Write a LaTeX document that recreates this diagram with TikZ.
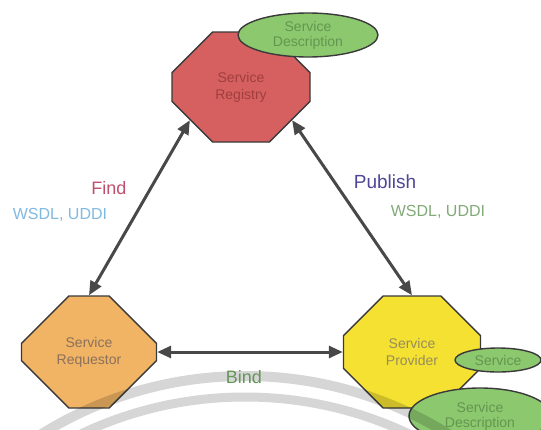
\documentclass[tikz,border=0pt]{standalone}
\usepackage{fontspec}
\setmainfont{Liberation Sans}
\usepackage{tikz}
\usetikzlibrary{shapes.misc, shapes.geometric, arrows.meta}

\definecolor{edgegray}{RGB}{58,58,58}
\definecolor{linkgray}{RGB}{72,72,72}
\definecolor{regred}{RGB}{214,96,96}
\definecolor{regtext}{RGB}{160,62,62}
\definecolor{reqorange}{RGB}{240,180,100}
\definecolor{reqtext}{RGB}{140,112,92}
\definecolor{provyellow}{RGB}{245,225,50}
\definecolor{provtext}{RGB}{150,140,92}
\definecolor{descgreen}{RGB}{140,200,110}
\definecolor{desctext}{RGB}{100,150,80}
\definecolor{findred}{RGB}{190,80,110}
\definecolor{pubblue}{RGB}{80,70,150}
\definecolor{wsdlblue}{RGB}{130,185,225}
\definecolor{wsdlgreen}{RGB}{130,170,120}
\definecolor{bindgreen}{RGB}{100,150,90}

\begin{document}
\begin{tikzpicture}[x=1pt, y=-1pt,
  oct/.style={chamfered rectangle, draw=edgegray, line width=1.4pt, inner sep=0pt, align=center, font=\fontsize{14}{17}\selectfont},
  descr/.style={ellipse, draw=edgegray, line width=1.4pt, fill=descgreen, inner sep=0pt, align=center, text=desctext, font=\fontsize{14}{15}\selectfont},
  link/.style={line width=3pt, draw=linkgray, {Triangle[length=14pt,width=12pt]}-{Triangle[length=14pt,width=12pt]}},
  band/.style={line width=10pt, draw=black, draw opacity=0.16}]
\useasboundingbox (0,0) rectangle (541,429);
\fill[white] (0,0) rectangle (541,429);

\node[oct, fill=regred, text=regtext, minimum width=138pt, minimum height=110pt, chamfered rectangle xsep=36pt, chamfered rectangle ysep=34pt] at (241,87) (Registry) {Service\\Registry};
\node[oct, fill=reqorange, text=reqtext, minimum width=135pt, minimum height=112pt, chamfered rectangle xsep=32pt, chamfered rectangle ysep=34pt] at (89,352) (Requestor) {Service\\Requestor};
\node[oct, fill=provyellow, text=provtext, minimum width=137pt, minimum height=112pt, chamfered rectangle xsep=32pt, chamfered rectangle ysep=34pt] at (412,352) (Provider) {Service\\Provider};

\node[descr, minimum width=140pt, minimum height=44pt] at (308,35) (DescTop) {Service\\Description};
\node[descr, minimum width=86pt, minimum height=24pt] at (498,360) (ServiceEll) {Service};
\node[descr, minimum width=142pt, minimum height=56pt] at (480,416) (DescBottom) {Service\\Description};

\draw[link] (Registry.213.7) -- (Requestor.north);
\draw[link] (Registry.327.7) -- (Provider.north);
\draw[link] (Requestor.east) -- (Provider.west);

\draw[band] (245,761) circle[radius=385pt];
\draw[band, line width=9pt] (245,779) circle[radius=382pt];

\node[text=findred, font=\fontsize{18}{18}\selectfont] at (109,188) (Find) {Find};
\node[text=wsdlblue, font=\fontsize{16}{16}\selectfont] at (60,215) (WsdlFind) {WSDL, UDDI};
\node[text=pubblue, font=\fontsize{19}{19}\selectfont] at (385,182) (Publish) {Publish};
\node[text=wsdlgreen, font=\fontsize{16}{16}\selectfont] at (438,212) (WsdlPub) {WSDL, UDDI};
\node[text=bindgreen, font=\fontsize{18}{18}\selectfont] at (244,377) (Bind) {Bind};
\end{tikzpicture}
\end{document}
